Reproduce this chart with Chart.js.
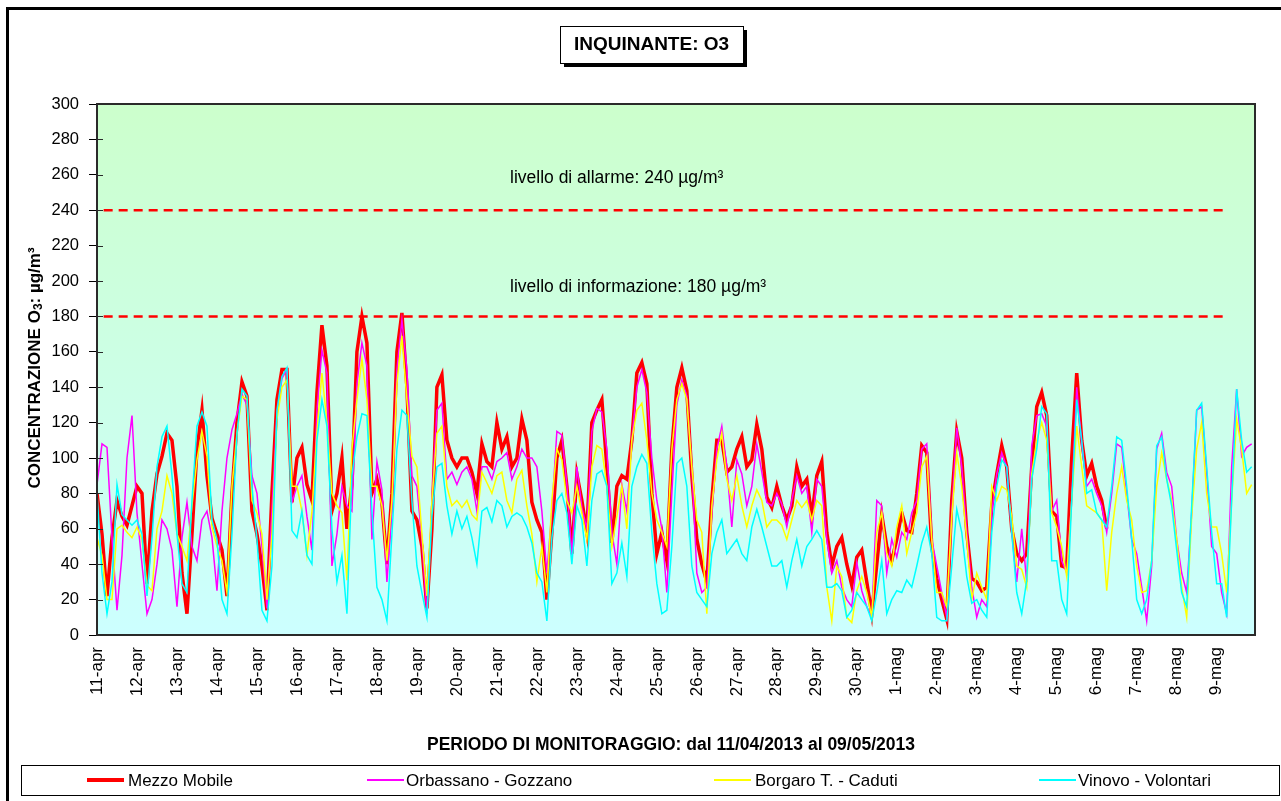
<!DOCTYPE html>
<html>
<head>
<meta charset="utf-8">
<title>Inquinante O3</title>
<script src="https://cdn.jsdelivr.net/npm/chart.js@4.4.1/dist/chart.umd.min.js"></script>
<style>
    html, body { margin: 0; padding: 0; background: #fff; }
    canvas { display: block; }
</style>
</head>
<body>
<canvas id="o3Chart" width="1281" height="801"></canvas>
<script>
// Giorni del periodo di monitoraggio (etichette asse X)
const days = ['11-apr', '12-apr', '13-apr', '14-apr', '15-apr', '16-apr', '17-apr', '18-apr', '19-apr', '20-apr',
    '21-apr', '22-apr', '23-apr', '24-apr', '25-apr', '26-apr', '27-apr', '28-apr', '29-apr', '30-apr',
    '1-mag', '2-mag', '3-mag', '4-mag', '5-mag', '6-mag', '7-mag', '8-mag', '9-mag'];

const STEP = 3;         // ore tra due valori consecutivi
const HOURS_MAX = 695;  // ultima ora del periodo

// Livelli di soglia (µg/m³)
const alarmLevel = 240;
const infoLevel = 180;

// Concentrazioni O3 (µg/m³), un valore ogni 3 ore, 8 valori al giorno
const mezzoMobile = [
    80, 57, 22, 55, 76, 67, 62, 73,
    84, 80, 29, 70, 91, 101, 114, 110,
    84, 35, 12, 57, 105, 127, 90, 66,
    57, 48, 22, 80, 120, 143, 135, 70,
    57, 39, 14, 80, 133, 150, 150, 75,
    100, 106, 85, 76, 137, 175, 152, 70,
    80, 100, 60, 85, 160, 180, 165, 80,
    88, 75, 40, 80, 160, 182, 140, 70,
    65, 50, 15, 60, 140, 147, 110, 100,
    95, 100, 100, 92, 80, 108, 98, 95,
    120, 105, 112, 95, 100, 122, 110, 75,
    65, 58, 20, 58, 100, 110, 84, 46,
    91, 76, 58, 120, 127, 133, 95, 52,
    84, 90, 88, 110, 148, 154, 142, 80,
    46, 58, 42, 105, 140, 151, 138, 90,
    54, 40, 30, 76, 110, 110, 92, 95,
    105, 112, 95, 99, 119, 105, 78, 72,
    84, 73, 65, 73, 95, 84, 88, 67,
    90, 98, 58, 39, 50, 55, 40, 28,
    44, 48, 30, 12, 40, 68, 50, 42,
    54, 69, 59, 58, 80, 107, 103, 50,
    32, 20, 9, 76, 115, 100, 58, 32,
    30, 25, 27, 73, 91, 107, 95, 60,
    46, 42, 46, 95, 129, 137, 124, 70,
    67, 39, 38, 100, 148, 110, 90, 97,
    84, 76, 60, null, null, null, null, null,
    null, null, null, null, null, null, null, null,
    null, null, null, null, null, null, null, null,
    null, null, null, null, null, null, null, null
];

const orbassano = [
    85, 108, 106, 55, 14, 45, 100, 124,
    69, 40, 12, 20, 40, 65, 60, 48,
    16, 55, 75, 50, 42, 65, 70, 55,
    25, 70, 100, 116, 125, 136, 130, 90,
    80, 50, 15, 70, 125, 145, 150, 75,
    84, 90, 67, 48, 127, 161, 148, 39,
    57, 84, 73, 70, 142, 165, 152, 54,
    98, 82, 30, 70, 150, 178, 150, 90,
    84, 54, 12, 76, 127, 131, 88, 92,
    85, 92, 95, 88, 70, 95, 95, 88,
    98, 100, 103, 88, 95, 105, 100, 100,
    95, 70, 35, 70, 115, 113, 85, 45,
    95, 72, 60, 115, 128, 126, 105, 58,
    40, 85, 70, 110, 140, 150, 137, 100,
    76, 60, 24, 80, 130, 144, 135, 95,
    35, 24, 27, 69, 105, 118, 95, 61,
    99, 91, 73, 84, 108, 92, 75, 73,
    80, 74, 61, 76, 90, 80, 84, 58,
    88, 84, 54, 35, 42, 27, 20, 16,
    41, 25, 16, 10, 76, 73, 35, 54,
    44, 58, 54, 69, 76, 105, 108, 54,
    39, 24, 10, 69, 117, 95, 58, 27,
    10, 20, 16, 69, 91, 103, 95, 58,
    30, 60, 30, 107, 124, 125, 118, 70,
    76, 42, 35, 76, 140, 108, 84, 88,
    80, 73, 58, 80, 108, 106, 80, 54,
    46, 27, 8, 39, 105, 114, 92, 84,
    54, 35, 24, 69, 127, 129, 92, 50,
    46, 24, 12, 95, 139, 101, 106, 108
];

const borgaro = [
    55, 45, 20, 20, 60, 62, 58, 55,
    61, 54, 28, 25, 60, 70, 90, 80,
    57, 50, 42, 73, 99, 115, 101, 61,
    50, 42, 24, 84, 114, 135, 133, 76,
    69, 57, 20, 57, 122, 140, 144, 84,
    84, 70, 45, 70, 115, 148, 120, 80,
    73, 69, 31, 105, 133, 156, 133, 84,
    84, 73, 42, 76, 142, 169, 133, 101,
    95, 57, 22, 76, 114, 118, 84, 73,
    76, 72, 76, 68, 65, 92, 86, 80,
    90, 92, 76, 69, 88, 93, 73, 57,
    30, 50, 24, 76, 105, 99, 76, 69,
    84, 69, 54, 95, 107, 105, 84, 50,
    67, 84, 60, 110, 127, 131, 110, 80,
    65, 58, 50, 105, 133, 142, 133, 95,
    65, 58, 12, 73, 99, 114, 88, 76,
    90, 73, 61, 73, 82, 76, 61, 65,
    65, 62, 54, 65, 76, 72, 76, 65,
    76, 73, 27, 8, 39, 33, 10, 7,
    25, 33, 24, 10, 58, 69, 46, 39,
    61, 73, 46, 58, 69, 95, 101, 54,
    24, 24, 16, 67, 103, 84, 54, 20,
    35, 27, 20, 84, 76, 84, 82, 67,
    39, 37, 27, 91, 110, 120, 110, 69,
    61, 50, 33, 76, 118, 95, 73, 71,
    69, 65, 25, 58, 80, 95, 76, 65,
    39, 24, 25, 42, 84, 103, 88, 76,
    54, 27, 10, 67, 105, 120, 80, 61,
    61, 46, 24, 76, 122, 105, 80, 85
];

const vinovo = [
    80, 35, 12, 30, 85, 68, 65, 62,
    65, 57, 22, 55, 95, 112, 118, 90,
    57, 29, 24, 76, 118, 126, 118, 65,
    54, 20, 12, 57, 114, 139, 135, 84,
    54, 14, 8, 39, 127, 146, 151, 59,
    55, 70, 45, 40, 110, 133, 118, 60,
    30, 45, 12, 90, 112, 125, 124, 70,
    27, 20, 8, 57, 105, 127, 124, 76,
    39, 24, 10, 67, 95, 97, 73, 57,
    70, 60, 67, 55, 40, 70, 72, 64,
    76, 73, 61, 67, 69, 67, 61, 52,
    35, 30, 8, 55, 76, 80, 69, 40,
    73, 65, 39, 76, 91, 93, 84, 29,
    35, 52, 33, 84, 95, 102, 97, 58,
    29, 12, 14, 50, 97, 100, 84, 39,
    24, 20, 16, 46, 58, 65, 46, 50,
    54, 46, 42, 61, 71, 61, 50, 39,
    39, 42, 27, 42, 54, 39, 50, 54,
    59, 54, 27, 27, 29, 25, 10, 14,
    24, 20, 16, 8, 24, 42, 12, 20,
    25, 24, 31, 27, 39, 52, 61, 46,
    10, 8, 8, 39, 71, 58, 33, 18,
    20, 14, 10, 58, 84, 99, 95, 58,
    24, 12, 31, 88, 105, 129, 125, 42,
    42, 20, 12, 76, 133, 110, 80, 82,
    69, 65, 61, 84, 112, 110, 84, 54,
    20, 12, 20, 42, 107, 112, 88, 73,
    48, 24, 16, 73, 127, 131, 95, 58,
    29, 29, 10, 76, 139, 110, 92, 95
];

const FONT = '"Liberation Sans", Arial, sans-serif';

// Trasforma un array di valori in punti {x: ora, y: valore}
function toPoints(values) {
    return values.map((v, i) => ({ x: i * STEP, y: v }));
}

// Linea orizzontale di soglia
function levelLine(level) {
    return [{ x: 4, y: level }, { x: 676, y: level }];
}

// Sfondo, cornici, titoli e legenda disegnati sul canvas
const decorations = {
    id: 'decorations',
    beforeDraw(chart) {
        const { ctx, chartArea: a } = chart;
        ctx.save();
        ctx.fillStyle = '#ffffff';
        ctx.fillRect(0, 0, chart.width, chart.height);

        // cornice esterna
        ctx.fillStyle = '#000000';
        ctx.fillRect(6, 7, 3, chart.height);
        ctx.fillRect(6, 7, chart.width, 3);

        // area del grafico sfumata
        const g = ctx.createLinearGradient(0, a.top, 0, a.bottom);
        g.addColorStop(0, '#ccffcc');
        g.addColorStop(1, '#ccffff');
        ctx.fillStyle = g;
        ctx.fillRect(a.left, a.top, a.right - a.left, a.bottom - a.top);
        ctx.restore();
    },
    afterDatasetsDraw(chart) {
        const { ctx, chartArea: a, scales } = chart;
        ctx.save();
        ctx.strokeStyle = '#2a2a2a';
        ctx.lineWidth = 2;
        ctx.strokeRect(a.left, a.top, a.right - a.left, a.bottom - a.top);

        // tacche interne dell'asse Y
        ctx.lineWidth = 1;
        ctx.beginPath();
        scales.y.ticks.forEach(t => {
            const y = Math.round(scales.y.getPixelForValue(t.value)) + 0.5;
            ctx.moveTo(a.left, y);
            ctx.lineTo(a.left + 6, y);
        });
        ctx.stroke();
        ctx.restore();
    },
    afterDraw(chart) {
        const { ctx } = chart;
        ctx.save();

        // titolo in riquadro con ombra
        ctx.fillStyle = '#000';
        ctx.fillRect(564, 30, 183, 37);
        ctx.fillStyle = '#fff';
        ctx.fillRect(560, 26, 183, 37);
        ctx.strokeStyle = '#000';
        ctx.lineWidth = 1;
        ctx.strokeRect(560.5, 26.5, 183, 37);
        ctx.fillStyle = '#000';
        ctx.font = 'bold 19px ' + FONT;
        ctx.textAlign = 'center';
        ctx.textBaseline = 'middle';
        ctx.fillText('INQUINANTE: O3', 651.5, 45);

        // etichette dei livelli
        ctx.font = '17.5px ' + FONT;
        ctx.textAlign = 'left';
        ctx.fillText('livello di allarme: ' + alarmLevel + ' µg/m³', 510, 178);
        ctx.fillText('livello di informazione: ' + infoLevel + ' µg/m³', 510, 287);

        // titolo asse X
        ctx.font = 'bold 17.5px ' + FONT;
        ctx.textAlign = 'center';
        ctx.fillText('PERIODO DI MONITORAGGIO: dal 11/04/2013 al 09/05/2013', 671, 745);

        // titolo asse Y con pedice
        ctx.save();
        ctx.translate(35, 368);
        ctx.rotate(-Math.PI / 2);
        const big = 'bold 17px ' + FONT;
        const small = 'bold 12px ' + FONT;
        const parts = [['CONCENTRAZIONE O', big, 0], ['3', small, 4], [': µg/m³', big, 0]];
        let total = 0;
        parts.forEach(p => { ctx.font = p[1]; total += ctx.measureText(p[0]).width; });
        let x = -total / 2;
        ctx.textAlign = 'left';
        parts.forEach(p => {
            ctx.font = p[1];
            ctx.fillText(p[0], x, p[2]);
            x += ctx.measureText(p[0]).width;
        });
        ctx.restore();

        // legenda
        ctx.strokeStyle = '#000';
        ctx.lineWidth = 1;
        ctx.strokeRect(21.5, 765.5, 1258, 30);
        const slots = [[87, 128], [367, 406], [714, 755], [1039, 1078]];
        ctx.font = '17px ' + FONT;
        ctx.textAlign = 'left';
        chart.data.datasets.slice(0, 4).forEach((ds, i) => {
            const [lx, tx] = slots[i];
            ctx.strokeStyle = ds.borderColor;
            ctx.lineWidth = i === 0 ? 4 : 2;
            ctx.beginPath();
            ctx.moveTo(lx, 780);
            ctx.lineTo(lx + 37, 780);
            ctx.stroke();
            ctx.fillStyle = '#000';
            ctx.fillText(ds.label, tx, 781);
        });
        ctx.restore();
    }
};

const o3Chart = new Chart(document.getElementById('o3Chart'), {
    type: 'line',
    data: {
        datasets: [
            { label: 'Mezzo Mobile', data: toPoints(mezzoMobile), borderColor: '#ff0000', borderWidth: 3.5, order: 4 },
            { label: 'Orbassano - Gozzano', data: toPoints(orbassano), borderColor: '#ff00ff', borderWidth: 1.5, order: 3 },
            { label: 'Borgaro T. - Caduti', data: toPoints(borgaro), borderColor: '#ffff00', borderWidth: 1.5, order: 2 },
            { label: 'Vinovo - Volontari', data: toPoints(vinovo), borderColor: '#00ffff', borderWidth: 1.5, order: 1 },
            { label: 'allarme', data: levelLine(alarmLevel), borderColor: '#ff0000', borderWidth: 2.5, borderDash: [9, 6], order: 0 },
            { label: 'informazione', data: levelLine(infoLevel), borderColor: '#ff0000', borderWidth: 2.5, borderDash: [9, 6], order: 0 }
        ]
    },
    options: {
        responsive: false,
        animation: false,
        devicePixelRatio: 1,
        elements: {
            point: { radius: 0 },
            line: { tension: 0, fill: false }
        },
        layout: { padding: { left: 0, right: 26, top: 104, bottom: 56 } },
        plugins: {
            legend: { display: false },
            tooltip: { enabled: false }
        },
        scales: {
            x: {
                type: 'linear',
                min: 0,
                max: HOURS_MAX,
                afterBuildTicks: s => { s.ticks = s.ticks.filter(t => t.value % 24 === 0); },
                afterFit: s => { s.height = 110; },
                grid: { display: false, drawTicks: false },
                border: { display: false },
                ticks: {
                    stepSize: 24,
                    autoSkip: false,
                    minRotation: 90,
                    maxRotation: 90,
                    padding: 12,
                    color: '#000',
                    font: { family: FONT, size: 17 },
                    callback: v => days[v / 24]
                }
            },
            y: {
                min: 0,
                max: 300,
                afterFit: s => { s.width = 97; },
                grid: { drawOnChartArea: false, tickLength: 8, color: '#000' },
                border: { display: false },
                ticks: {
                    stepSize: 20,
                    padding: 10,
                    color: '#000',
                    font: { family: FONT, size: 16.5 }
                }
            }
        }
    },
    plugins: [decorations]
});
</script>
</body>
</html>
